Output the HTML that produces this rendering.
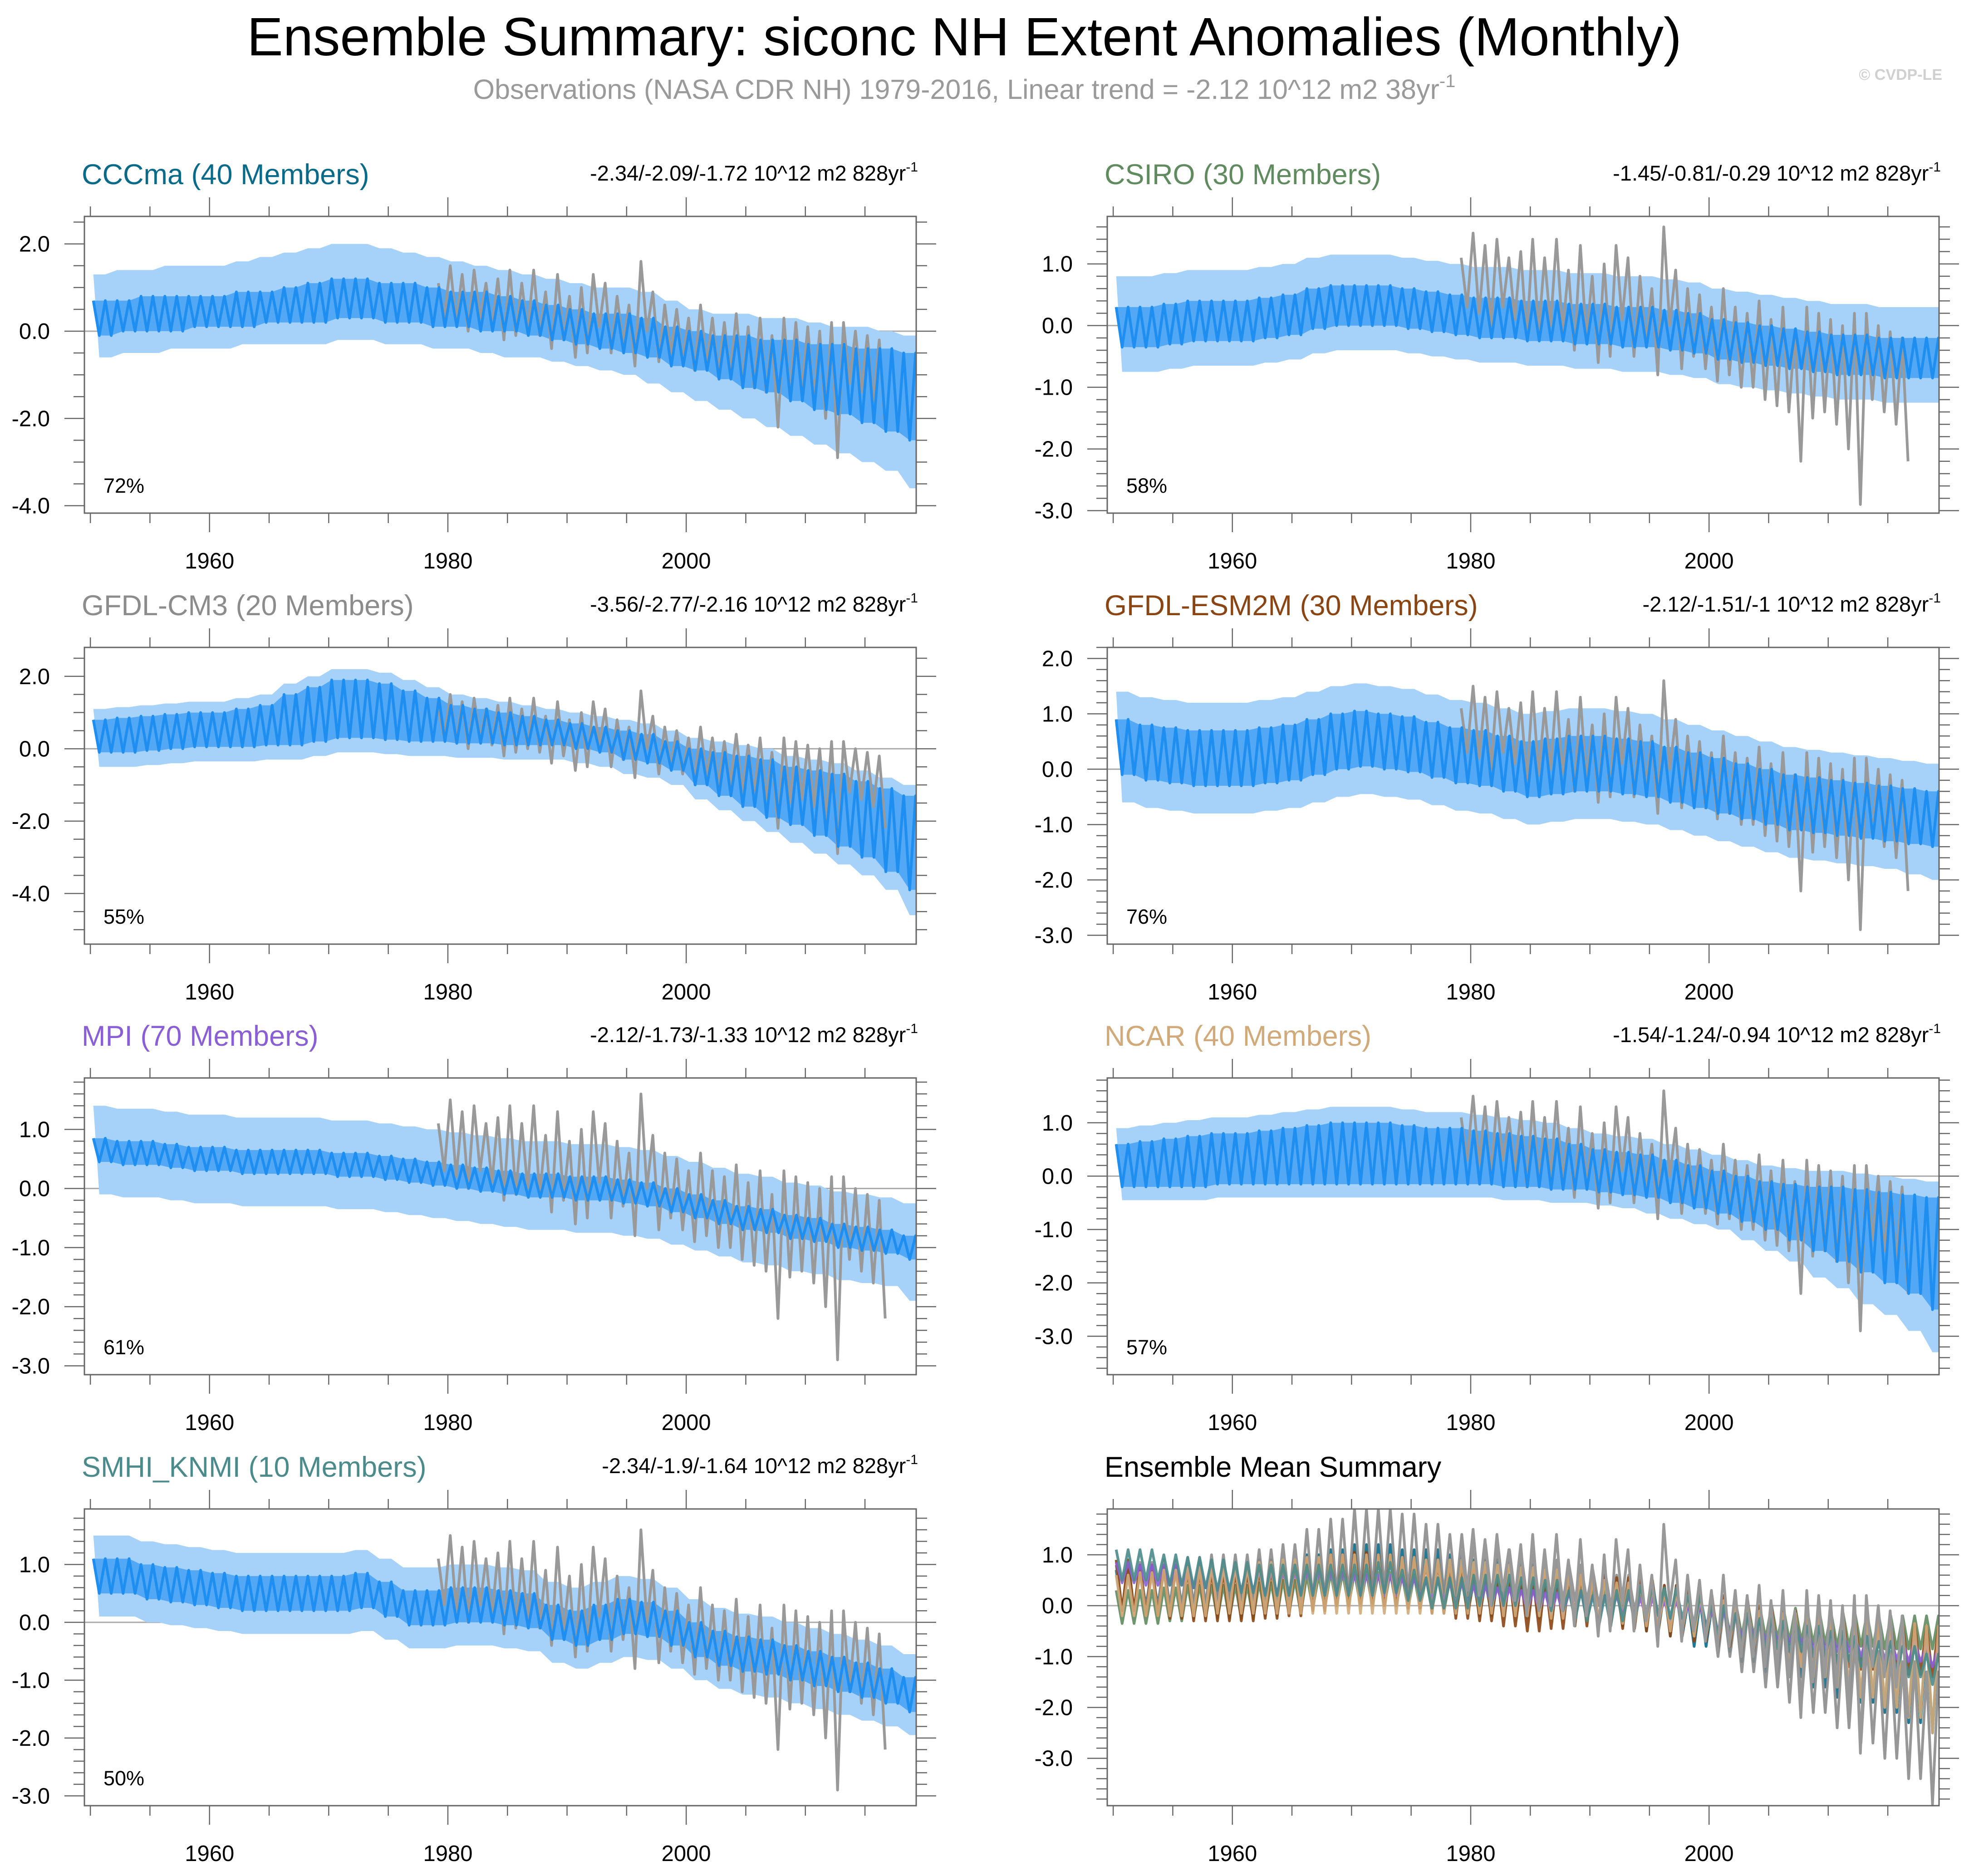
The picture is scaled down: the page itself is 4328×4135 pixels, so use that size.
<!DOCTYPE html>
<html><head><meta charset="utf-8"><style>
html,body{margin:0;padding:0;background:#fff;}
svg{display:block;font-family:"Liberation Sans",Arial,sans-serif;}
</style></head><body>
<svg id="chart" width="4328" height="4135" viewBox="0 0 4328 4135" xmlns="http://www.w3.org/2000/svg">
<text x="2125" y="122" font-size="119" text-anchor="middle" fill="#000">Ensemble Summary: siconc NH Extent Anomalies (Monthly)</text>
<text x="2125" y="218" font-size="61" text-anchor="middle" fill="#9a9a9a">Observations (NASA CDR NH) 1979-2016, Linear trend = -2.12 10^12 m2 38yr<tspan font-size="40" dy="-26">-1</tspan></text>
<text x="4280" y="176" font-size="34" text-anchor="end" fill="#d0d0d0" font-weight="bold">© CVDP-LE</text>
</svg>
<script>
const years=[1950,1952,1954,1956,1958,1960,1962,1964,1966,1968,1970,1972,1974,1976,1978,1980,1982,1984,1986,1988,1990,1992,1994,1996,1998,2000,2002,2004,2006,2008,2010,2012,2014,2016,2018];
const obsYears=[1979,1980,1981,1982,1983,1984,1985,1986,1987,1988,1989,1990,1991,1992,1993,1994,1995,1996,1997,1998,1999,2000,2001,2002,2003,2004,2005,2006,2007,2008,2009,2010,2011,2012,2013,2014,2015,2016];
const obsHi=[1.1,1.5,1.3,1.4,1.1,1.2,1.4,1.1,1.4,0.9,1.3,0.8,1.0,1.3,1.1,0.8,0.6,1.6,0.9,0.6,0.5,0.3,0.6,0.3,0.2,0.4,0.1,0.3,-0.1,0.3,0.2,0.1,0.0,0.2,0.2,0.0,-0.1,-0.2];
const obsLo=[0.3,0.2,0.0,0.3,0.1,-0.2,-0.1,0.0,-0.1,-0.4,-0.2,-0.6,-0.5,0.1,-0.5,-0.3,-0.8,0.0,-0.7,-0.5,-0.7,-0.9,-0.8,-1.0,-1.0,-1.2,-1.3,-1.4,-2.2,-1.5,-1.4,-1.6,-2.0,-2.9,-1.2,-1.4,-1.6,-2.2];

const cccmaHi=[0.7,0.7,0.8,0.8,0.8,0.8,0.9,0.9,1.0,1.1,1.2,1.2,1.1,1.1,1.0,0.9,0.9,0.8,0.7,0.6,0.5,0.4,0.4,0.3,0.1,0.0,-0.1,-0.1,-0.2,-0.2,-0.3,-0.3,-0.4,-0.4,-0.5];
const cccmaLo=[-0.1,0.0,0.0,0.0,0.1,0.1,0.1,0.2,0.2,0.2,0.3,0.3,0.2,0.2,0.1,0.1,0.0,0.0,-0.1,-0.2,-0.3,-0.4,-0.5,-0.6,-0.8,-0.9,-1.1,-1.3,-1.4,-1.6,-1.8,-1.9,-2.1,-2.3,-2.5];
const cccmaBandHi=[1.3,1.4,1.4,1.5,1.5,1.5,1.6,1.7,1.8,1.9,2.0,2.0,1.9,1.8,1.7,1.6,1.5,1.4,1.3,1.2,1.1,1.0,1.0,0.9,0.7,0.5,0.4,0.4,0.3,0.3,0.2,0.1,0.1,0.0,-0.1];
const cccmaBandLo=[-0.6,-0.5,-0.5,-0.4,-0.4,-0.4,-0.3,-0.3,-0.3,-0.3,-0.2,-0.2,-0.3,-0.3,-0.4,-0.4,-0.5,-0.6,-0.6,-0.7,-0.8,-0.9,-1.0,-1.2,-1.4,-1.6,-1.8,-2.0,-2.2,-2.4,-2.6,-2.8,-3.0,-3.2,-3.6];

const csiroHi=[0.3,0.3,0.35,0.4,0.4,0.4,0.45,0.5,0.6,0.65,0.65,0.65,0.6,0.55,0.5,0.45,0.45,0.4,0.4,0.35,0.35,0.3,0.3,0.25,0.2,0.1,0.05,0.0,-0.05,-0.1,-0.15,-0.15,-0.2,-0.2,-0.2];
const csiroLo=[-0.35,-0.35,-0.3,-0.25,-0.25,-0.25,-0.2,-0.15,-0.05,0.0,0.0,0.0,-0.05,-0.1,-0.15,-0.2,-0.2,-0.25,-0.25,-0.3,-0.3,-0.35,-0.35,-0.4,-0.45,-0.55,-0.6,-0.65,-0.7,-0.75,-0.8,-0.8,-0.85,-0.85,-0.85];
const csiroBandHi=[0.8,0.8,0.85,0.9,0.9,0.9,0.95,1.0,1.1,1.15,1.15,1.15,1.1,1.05,1.0,0.95,0.95,0.9,0.9,0.85,0.85,0.8,0.8,0.75,0.7,0.6,0.55,0.5,0.45,0.4,0.35,0.35,0.3,0.3,0.3];
const csiroBandLo=[-0.75,-0.75,-0.7,-0.65,-0.65,-0.65,-0.6,-0.55,-0.45,-0.4,-0.4,-0.4,-0.45,-0.5,-0.55,-0.6,-0.6,-0.65,-0.65,-0.7,-0.7,-0.75,-0.75,-0.8,-0.85,-0.95,-1.0,-1.05,-1.1,-1.15,-1.2,-1.2,-1.25,-1.25,-1.25];

const cm3Hi=[0.8,0.85,0.9,0.95,1.0,1.0,1.1,1.2,1.5,1.7,1.9,1.9,1.8,1.6,1.4,1.2,1.1,1.0,0.9,0.8,0.7,0.6,0.5,0.4,0.2,0.0,-0.1,-0.2,-0.3,-0.5,-0.6,-0.7,-0.9,-1.1,-1.3];
const cm3Lo=[-0.1,-0.1,-0.05,0.0,0.05,0.05,0.05,0.1,0.1,0.2,0.3,0.3,0.25,0.2,0.2,0.15,0.15,0.1,0.1,0.1,0.0,-0.1,-0.3,-0.4,-0.6,-1.0,-1.3,-1.6,-1.9,-2.1,-2.4,-2.7,-3.0,-3.4,-3.9];
const cm3BandHi=[1.1,1.15,1.2,1.25,1.3,1.3,1.4,1.5,1.8,2.0,2.2,2.2,2.1,1.9,1.7,1.5,1.4,1.3,1.2,1.1,1.0,0.9,0.8,0.7,0.5,0.3,0.2,0.1,0.0,-0.2,-0.3,-0.4,-0.6,-0.8,-1.0];
const cm3BandLo=[-0.5,-0.5,-0.45,-0.4,-0.35,-0.35,-0.35,-0.3,-0.3,-0.2,-0.1,-0.1,-0.15,-0.2,-0.2,-0.25,-0.25,-0.3,-0.3,-0.3,-0.4,-0.5,-0.7,-0.8,-1.0,-1.4,-1.7,-2.0,-2.3,-2.6,-2.9,-3.2,-3.5,-3.9,-4.6];

const esmHi=[0.9,0.8,0.75,0.7,0.7,0.7,0.75,0.8,0.9,1.0,1.05,1.0,0.95,0.85,0.75,0.7,0.6,0.5,0.55,0.6,0.6,0.55,0.5,0.4,0.3,0.2,0.1,0.0,-0.1,-0.15,-0.2,-0.25,-0.3,-0.35,-0.4];
const esmLo=[-0.1,-0.2,-0.25,-0.3,-0.3,-0.3,-0.25,-0.2,-0.1,0.0,0.05,0.0,-0.05,-0.15,-0.25,-0.3,-0.4,-0.5,-0.45,-0.4,-0.4,-0.45,-0.5,-0.6,-0.7,-0.8,-0.9,-1.0,-1.1,-1.15,-1.2,-1.25,-1.3,-1.35,-1.4];
const esmBandHi=[1.4,1.3,1.25,1.2,1.2,1.2,1.25,1.3,1.4,1.5,1.55,1.5,1.45,1.35,1.25,1.2,1.1,1.0,1.05,1.1,1.1,1.05,1.0,0.9,0.8,0.7,0.6,0.5,0.4,0.35,0.3,0.25,0.2,0.15,0.1];
const esmBandLo=[-0.6,-0.7,-0.75,-0.8,-0.8,-0.8,-0.75,-0.7,-0.6,-0.5,-0.45,-0.5,-0.55,-0.65,-0.75,-0.8,-0.9,-1.0,-0.95,-0.9,-0.9,-0.95,-1.0,-1.1,-1.2,-1.3,-1.4,-1.5,-1.6,-1.65,-1.7,-1.75,-1.8,-1.9,-2.0];

const mpiHi=[0.85,0.8,0.8,0.75,0.7,0.7,0.65,0.65,0.65,0.65,0.6,0.6,0.55,0.5,0.45,0.4,0.35,0.3,0.25,0.25,0.2,0.2,0.15,0.1,0.0,-0.1,-0.2,-0.3,-0.35,-0.45,-0.5,-0.6,-0.65,-0.7,-0.8];
const mpiLo=[0.45,0.4,0.4,0.35,0.3,0.3,0.25,0.25,0.25,0.25,0.2,0.2,0.15,0.1,0.05,0.0,-0.05,-0.1,-0.15,-0.15,-0.2,-0.2,-0.25,-0.3,-0.4,-0.5,-0.6,-0.7,-0.75,-0.85,-0.9,-1.0,-1.05,-1.1,-1.2];
const mpiBandHi=[1.4,1.35,1.35,1.3,1.25,1.25,1.2,1.2,1.2,1.2,1.15,1.15,1.1,1.05,1.0,0.95,0.9,0.85,0.8,0.8,0.75,0.75,0.7,0.65,0.55,0.45,0.35,0.25,0.2,0.1,0.05,-0.05,-0.1,-0.15,-0.25];
const mpiBandLo=[-0.1,-0.15,-0.15,-0.2,-0.25,-0.25,-0.3,-0.3,-0.3,-0.3,-0.35,-0.35,-0.4,-0.45,-0.5,-0.55,-0.6,-0.65,-0.7,-0.7,-0.75,-0.75,-0.8,-0.85,-0.95,-1.05,-1.15,-1.25,-1.3,-1.4,-1.45,-1.55,-1.6,-1.65,-1.9];

const ncarHi=[0.6,0.65,0.7,0.75,0.8,0.8,0.85,0.9,0.95,1.0,1.0,1.0,0.95,0.9,0.9,0.85,0.8,0.75,0.7,0.6,0.5,0.45,0.4,0.3,0.2,0.1,0.0,-0.1,-0.15,-0.2,-0.2,-0.25,-0.3,-0.35,-0.4];
const ncarLo=[-0.2,-0.2,-0.2,-0.2,-0.15,-0.15,-0.15,-0.15,-0.15,-0.15,-0.15,-0.15,-0.15,-0.15,-0.15,-0.15,-0.2,-0.2,-0.25,-0.25,-0.3,-0.35,-0.4,-0.5,-0.6,-0.7,-0.85,-1.0,-1.2,-1.4,-1.6,-1.8,-2.0,-2.2,-2.5];
const ncarBandHi=[0.9,0.95,1.0,1.05,1.1,1.1,1.15,1.2,1.25,1.3,1.3,1.3,1.25,1.2,1.2,1.15,1.1,1.05,1.0,0.9,0.8,0.75,0.7,0.6,0.5,0.4,0.3,0.2,0.15,0.1,0.1,0.05,0.0,-0.05,-0.1];
const ncarBandLo=[-0.45,-0.45,-0.45,-0.45,-0.4,-0.4,-0.4,-0.4,-0.4,-0.4,-0.4,-0.4,-0.4,-0.4,-0.4,-0.4,-0.45,-0.45,-0.5,-0.5,-0.55,-0.6,-0.7,-0.8,-0.9,-1.0,-1.2,-1.4,-1.6,-1.9,-2.1,-2.4,-2.6,-2.9,-3.3];

const smhiHi=[1.1,1.1,1.0,0.95,0.9,0.85,0.8,0.8,0.8,0.8,0.8,0.85,0.7,0.55,0.55,0.6,0.6,0.55,0.5,0.3,0.2,0.3,0.4,0.35,0.2,0.0,-0.15,-0.25,-0.3,-0.4,-0.5,-0.6,-0.7,-0.8,-0.95];
const smhiLo=[0.5,0.5,0.4,0.35,0.3,0.25,0.2,0.2,0.2,0.2,0.2,0.25,0.1,-0.05,-0.05,0.0,0.0,-0.05,-0.1,-0.3,-0.4,-0.3,-0.2,-0.25,-0.4,-0.6,-0.75,-0.85,-0.9,-1.0,-1.1,-1.2,-1.3,-1.4,-1.55];
const smhiBandHi=[1.5,1.5,1.4,1.35,1.3,1.25,1.2,1.2,1.2,1.2,1.2,1.25,1.1,0.95,0.95,1.0,1.0,0.95,0.9,0.7,0.6,0.7,0.8,0.75,0.6,0.4,0.25,0.15,0.1,0.0,-0.1,-0.2,-0.3,-0.4,-0.55];
const smhiBandLo=[0.1,0.1,0.0,-0.05,-0.1,-0.15,-0.2,-0.2,-0.2,-0.2,-0.2,-0.15,-0.3,-0.45,-0.45,-0.4,-0.4,-0.45,-0.5,-0.7,-0.8,-0.7,-0.6,-0.65,-0.8,-1.0,-1.15,-1.25,-1.3,-1.4,-1.5,-1.6,-1.7,-1.8,-1.95];

const xTickYears=[1950,1955,1960,1965,1970,1975,1980,1985,1990,1995,2000,2005,2010,2015];
const xLabelYears=[1960,1980,2000];

const NS='http://www.w3.org/2000/svg';
const svg=document.getElementById('chart');
function el(tag,attrs,parent){const e=document.createElementNS(NS,tag);for(const k in attrs)e.setAttribute(k,attrs[k]);(parent||svg).appendChild(e);return e;}

const XMIN=1949.5, XMAX=2019.3;
const panels=[
 {key:'cccma',title:'CCCma (40 Members)',color:'#0a6a8a',ann:'-2.34/-2.09/-1.72 10^12 m2 828yr',pct:'72%',x0:186,y0:477,ymin:-4.17,ymax:2.63,major:[2,0,-2,-4],minor:0.5,hi:cccmaHi,lo:cccmaLo,bh:cccmaBandHi,bl:cccmaBandLo},
 {key:'csiro',title:'CSIRO (30 Members)',color:'#5f8b5f',ann:'-1.45/-0.81/-0.29 10^12 m2 828yr',pct:'58%',x0:2440,y0:477,ymin:-3.04,ymax:1.77,major:[1,0,-1,-2,-3],minor:0.2,hi:csiroHi,lo:csiroLo,bh:csiroBandHi,bl:csiroBandLo},
 {key:'gfdl-cm3',title:'GFDL-CM3 (20 Members)',color:'#8c8c8c',ann:'-3.56/-2.77/-2.16 10^12 m2 828yr',pct:'55%',x0:186,y0:1427,ymin:-5.4,ymax:2.8,major:[2,0,-2,-4],minor:0.5,hi:cm3Hi,lo:cm3Lo,bh:cm3BandHi,bl:cm3BandLo},
 {key:'gfdl-esm2m',title:'GFDL-ESM2M (30 Members)',color:'#8b4513',ann:'-2.12/-1.51/-1 10^12 m2 828yr',pct:'76%',x0:2440,y0:1427,ymin:-3.16,ymax:2.2,major:[2,1,0,-1,-2,-3],minor:0.2,hi:esmHi,lo:esmLo,bh:esmBandHi,bl:esmBandLo},
 {key:'mpi',title:'MPI (70 Members)',color:'#8a5fd6',ann:'-2.12/-1.73/-1.33 10^12 m2 828yr',pct:'61%',x0:186,y0:2376,ymin:-3.15,ymax:1.87,major:[1,0,-1,-2,-3],minor:0.2,hi:mpiHi,lo:mpiLo,bh:mpiBandHi,bl:mpiBandLo},
 {key:'ncar',title:'NCAR (40 Members)',color:'#d2aa7a',ann:'-1.54/-1.24/-0.94 10^12 m2 828yr',pct:'57%',x0:2440,y0:2376,ymin:-3.72,ymax:1.84,major:[1,0,-1,-2,-3],minor:0.2,hi:ncarHi,lo:ncarLo,bh:ncarBandHi,bl:ncarBandLo},
 {key:'smhi-knmi',title:'SMHI_KNMI (10 Members)',color:'#4b8b8b',ann:'-2.34/-1.9/-1.64 10^12 m2 828yr',pct:'50%',x0:186,y0:3326,ymin:-3.17,ymax:1.96,major:[1,0,-1,-2,-3],minor:0.2,hi:smhiHi,lo:smhiLo,bh:smhiBandHi,bl:smhiBandLo},
 {key:'summary',title:'Ensemble Mean Summary',color:'#000',ann:null,pct:null,x0:2440,y0:3326,ymin:-3.93,ymax:1.9,major:[1,0,-1,-2,-3],minor:0.2,summary:true}
];
const W=1833,H=654;

panels.forEach((p,pi)=>{
  const g=el('g',{});
  
  
  const X=v=>p.x0+(v-XMIN)/(XMAX-XMIN)*W;
  const Y=v=>p.y0+(p.ymax-v)/(p.ymax-p.ymin)*H;
  const cid='clip'+pi;
  const cp=el('clipPath',{id:cid},g);el('rect',{x:p.x0,y:p.y0,width:W,height:H},cp);
  const t=el('text',{x:p.x0-6,y:p.y0-71,'font-size':63,fill:p.color},g);t.textContent=p.title;
  
  
  if(p.ann){
    const a=el('text',{x:p.x0+W+4,y:p.y0-79,'font-size':47,'text-anchor':'end',fill:'#000'},g);
    a.textContent=p.ann;
    const s=el('tspan',{'font-size':30,dy:-20},a);s.textContent='-1';
    
    
  }
  const z=el('line',{x1:p.x0,x2:p.x0+W,y1:Y(0),y2:Y(0),stroke:'#aaa','stroke-width':3},g);
  
  
  const data=el('g',{'clip-path':'url(#'+cid+')'},g);
  
  
  function zig(hi,lo,yrs,o1,o2){let pts=[];yrs.forEach((y,i)=>{pts.push(X(y+o1).toFixed(1)+','+Y(hi[i]).toFixed(1));pts.push(X(y+o2).toFixed(1)+','+Y(lo[i]).toFixed(1));});return pts;}
  function zig2(hi,lo){let pts=[];years.forEach((y,i)=>{pts.push(X(y+0.25).toFixed(1)+','+Y(hi[i]).toFixed(1));pts.push(X(y+0.75).toFixed(1)+','+Y(lo[i]).toFixed(1));pts.push(X(y+1.25).toFixed(1)+','+Y(hi[i]).toFixed(1));pts.push(X(y+1.75).toFixed(1)+','+Y(lo[i]).toFixed(1));});return pts.join(' ');}
  function env(a,b){let up=[],dn=[];
    years.forEach((y,i)=>{up.push(X(y+0.25).toFixed(1)+','+Y(a[i]).toFixed(1));up.push(X(y+1.25).toFixed(1)+','+Y(a[i]).toFixed(1));});
    for(let i=years.length-1;i>=0;i--){dn.push(X(years[i]+1.75).toFixed(1)+','+Y(b[i]).toFixed(1));dn.push(X(years[i]+0.75).toFixed(1)+','+Y(b[i]).toFixed(1));}
    return up.concat(dn).join(' ');}
  if(!p.summary){
    const band=el('polygon',{points:env(p.bh,p.bl),fill:'#a6d2fa'},data);
    
    
    const inner=el('polygon',{points:env(p.hi,p.lo),fill:'#52a8f5'},data);
    
    
    const obs=el('polyline',{points:zig(obsHi,obsLo,obsYears,0.2,0.7).join(' '),fill:'none',stroke:'#999','stroke-width':6,'stroke-linejoin':'round'},data);
    
    
    const m=el('polyline',{points:zig2(p.hi,p.lo),fill:'none',stroke:'#1e8ef0','stroke-width':6,'stroke-linejoin':'round'},data);
    
    
  } else {
    panels.slice(0,7).forEach(q=>{
      const l=el('polyline',{points:zig2(q.hi,q.lo),fill:'none',stroke:q.color,'stroke-width':6,'stroke-linejoin':'round','stroke-opacity':0.9},data);
      
      
    });
    const obs=el('polyline',{points:zig(obsHi,obsLo,obsYears,0.2,0.7).join(' '),fill:'none',stroke:'#999','stroke-width':6,'stroke-linejoin':'round'},data);
    
    
  }
  const box=el('rect',{x:p.x0,y:p.y0,width:W,height:H,fill:'none',stroke:'#666','stroke-width':3},g);
  
  
  xTickYears.forEach(yr=>{
    const maj=xLabelYears.indexOf(yr)>=0, L=maj?42:22, x=X(yr);
    el('line',{x1:x,x2:x,y1:p.y0+H,y2:p.y0+H+L,stroke:'#666','stroke-width':2.5},g);
    el('line',{x1:x,x2:x,y1:p.y0,y2:p.y0-L,stroke:'#666','stroke-width':2.5},g);
  });
  xLabelYears.forEach(yr=>{
    const tl=el('text',{x:X(yr),y:p.y0+H+122,'font-size':49,'text-anchor':'middle',fill:'#000'},g);tl.textContent=yr;
    
    
  });
  const n0=Math.ceil(p.ymin/p.minor-1e-6), n1=Math.floor(p.ymax/p.minor+1e-6);
  for(let n=n0;n<=n1;n++){
    const v=n*p.minor, y=Y(v);
    const maj=p.major.some(m=>Math.abs(m-v)<1e-6), L=maj?44:24;
    el('line',{x1:p.x0,x2:p.x0-L,y1:y,y2:y,stroke:'#666','stroke-width':2.5},g);
    el('line',{x1:p.x0+W,x2:p.x0+W+L,y1:y,y2:y,stroke:'#666','stroke-width':2.5},g);
  }
  p.major.forEach(v=>{
    const yl=el('text',{x:p.x0-76,y:Y(v)+17,'font-size':49,'text-anchor':'end',fill:'#000'},g);yl.textContent=v.toFixed(1);
    
    
  });
  if(p.pct){
    const pc=el('text',{x:p.x0+42,y:p.y0+H-45,'font-size':45,fill:'#000'},g);pc.textContent=p.pct;
    
    
  }
});
</script>
</body></html>
